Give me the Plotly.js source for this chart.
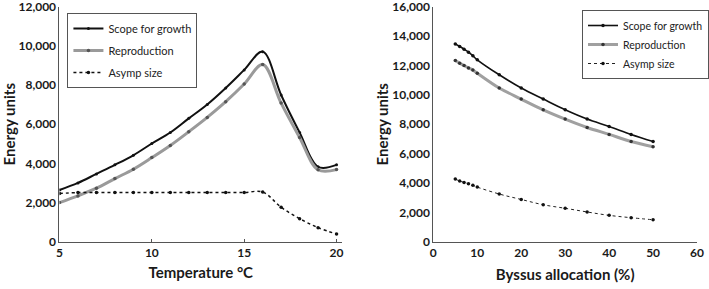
<!DOCTYPE html>
<html><head><meta charset="utf-8">
<script src="https://cdn.plot.ly/plotly-3.0.1.min.js"></script>
<style>html,body{margin:0;padding:0;background:#fff}#c{width:709px;height:289px}</style>
</head><body><div id="c"></div>
<script>
// Left panel: temperature
const tempX = [5,6,7,8,9,10,11,12,13,14,15,16,17,18,19,20];
const tempScope = [2650,3010,3470,3930,4420,5020,5580,6300,7010,7850,8770,9700,7490,5580,3830,3930];
const tempRepro = [2010,2350,2740,3230,3710,4300,4920,5620,6350,7150,8050,9040,7080,5330,3680,3690];
const tempAsymp = [2470,2520,2520,2520,2520,2520,2520,2520,2520,2520,2520,2550,1770,1190,730,410];
const tempTicks = [5,10,15,20];

// Right panel: byssus allocation
const byssX = [5,6,7,8,9,10,15,20,25,30,35,40,45,50];
const byssScope = [13460,13280,13100,12900,12650,12380,11360,10460,9710,8980,8350,7850,7310,6830];
const byssRepro = [12330,12150,11990,11830,11680,11470,10460,9710,8980,8350,7780,7310,6830,6470];
const byssAsymp = [4280,4140,4050,3960,3850,3730,3260,2890,2530,2290,2040,1810,1650,1510];

const names = ['Scope for growth','Reproduction','Asymp size'];

const F = 'Lato, "Open Sans", sans-serif';
const traces = [
  {x: tempX, y: tempScope, name: names[0], mode:'lines+markers', line:{color:'#111', width:2, shape:'spline'}, marker:{color:'#111', size:3}, xaxis:'x', yaxis:'y', legend:'legend', legendgroup:'a1'},
  {x: tempX, y: tempRepro, name: names[1], mode:'lines+markers', line:{color:'#9a9a9a', width:3, shape:'spline'}, marker:{color:'#555', size:3.5}, xaxis:'x', yaxis:'y', legend:'legend', legendgroup:'a2'},
  {x: tempX, y: tempAsymp, name: names[2], mode:'lines+markers', line:{color:'#111', width:1.5, dash:'dot', shape:'spline'}, marker:{color:'#111', size:3.5}, xaxis:'x', yaxis:'y', legend:'legend', legendgroup:'a3'},
  {x: byssX, y: byssScope, name: names[0], mode:'lines+markers', line:{color:'#111', width:1.6, shape:'spline'}, marker:{color:'#111', size:3.5}, xaxis:'x2', yaxis:'y2', legend:'legend2', legendgroup:'b1'},
  {x: byssX, y: byssRepro, name: names[1], mode:'lines+markers', line:{color:'#a0a0a0', width:3, shape:'spline'}, marker:{color:'#333', size:3.5}, xaxis:'x2', yaxis:'y2', legend:'legend2', legendgroup:'b2'},
  {x: byssX, y: byssAsymp, name: names[2], mode:'lines+markers', line:{color:'#222', width:1, dash:'dot', shape:'spline'}, marker:{color:'#111', size:3.5}, xaxis:'x2', yaxis:'y2', legend:'legend2', legendgroup:'b3'}
];

const tickFont = {family:F, size:12, color:'#1a1a1a', weight:'bold'};
const titleFont = {family:F, size:15, color:'#1a1a1a', weight:'bold'};
const axBase = {showgrid:false, zeroline:false, showline:true, linecolor:'#555', linewidth:1, ticks:'', tickfont:tickFont, automargin:false, ticklabeloverflow:'allow'};

const yd = [1-242/289, 1-6.5/289];
const layout = {
  width:709, height:289,
  margin:{l:0, r:0, t:0, b:0},
  paper_bgcolor:'#fff', plot_bgcolor:'#fff',
  font:{family:F},
  xaxis: Object.assign({}, axBase, {domain:[60/709, 345/709], range:[5,20.3], tickvals:tempTicks, ticks:'inside', ticklen:3, tickcolor:'#555', anchor:'y', title:{text:'Temperature °C', font:titleFont, standoff:8}}),
  yaxis: Object.assign({}, axBase, {domain:yd, range:[0,12000], dtick:2000, tickformat:',', anchor:'x', title:{text:'Energy units', font:titleFont, standoff:5}}),
  xaxis2: Object.assign({}, axBase, {domain:[437/709, 703/709], range:[0,60], dtick:10, anchor:'y2', title:{text:'Byssus allocation (%)', font:titleFont, standoff:10}}),
  yaxis2: Object.assign({}, axBase, {domain:yd, range:[0,16000], dtick:2000, tickformat:',', anchor:'x2', title:{text:'Energy units', font:titleFont, standoff:0}}),
  legend: {x:68/709, y:1-13/289, xanchor:'left', yanchor:'top', bordercolor:'#555', borderwidth:1, bgcolor:'#fff', font:{family:F, size:11, color:'#222'}, traceorder:'grouped', tracegroupgap:3, itemwidth:30},
  legend2: {x:587/709, y:1-10/289, xanchor:'left', yanchor:'top', bordercolor:'#555', borderwidth:1, bgcolor:'#fff', font:{family:F, size:10.5, color:'#222'}, traceorder:'grouped', tracegroupgap:0, itemwidth:30},
  showlegend:true
};
Plotly.newPlot('c', traces, layout, {displayModeBar:false, staticPlot:true});
</script></body></html>
